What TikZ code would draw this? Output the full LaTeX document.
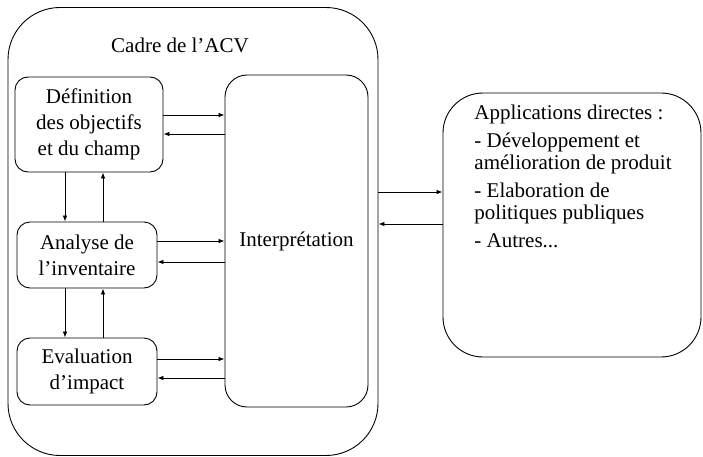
\documentclass[tikz,border=0pt]{standalone}
\usepackage{fontspec}
\setmainfont{Liberation Serif}
\usetikzlibrary{arrows.meta}
\begin{document}
\begin{tikzpicture}[x=1pt,y=-1pt,
  line width=0.9pt,
  every node/.style={font=\rmfamily\fontsize{21}{26}\selectfont},
  box/.style={draw, rounded corners=13pt, inner sep=0pt, align=center},
  arr/.style={-{Latex[length=6pt,width=4.5pt]}, line width=0.8pt}]
\useasboundingbox (0,0) rectangle (703,457);
% outer frame
\node[box, rounded corners=52pt, minimum width=370pt, minimum height=448pt] (cadre) at (193,231.5) {};
\node (titre) at (180,45) {Cadre de l’ACV};
% inner boxes
\node[box, minimum width=148pt, minimum height=95pt] (def) at (89,124.5) {Définition\\des objectifs\\et du champ};
\node[box, minimum width=140pt, minimum height=66pt] (ana) at (87,255) {Analyse de\\l’inventaire};
\node[box, minimum width=140pt, minimum height=67pt] (eva) at (87,371.5) {Evaluation\\d’impact};
\node[box, rounded corners=22pt, minimum width=143pt, minimum height=332pt] (int) at (296.5,241) {Interprétation};
% applications box
\node[box, rounded corners=40pt, minimum width=258pt, minimum height=264pt] (app) at (572,225) {};
\node[anchor=north west, align=left, inner sep=0pt, font=\rmfamily\fontsize{21}{22}\selectfont] (apptxt) at (474,104)
  {Applications directes :\\[6pt]- Développement et\\amélioration de produit\\[6pt]- Elaboration de\\politiques publiques\\[6pt]- Autres...};
% horizontal arrows
\draw[arr] (def.east |- 0,115) -- (int.west |- 0,115);
\draw[arr] (int.west |- 0,134) -- (def.east |- 0,134);
\draw[arr] (ana.east |- 0,241) -- (int.west |- 0,241);
\draw[arr] (int.west |- 0,262) -- (ana.east |- 0,262);
\draw[arr] (eva.east |- 0,359) -- (int.west |- 0,359);
\draw[arr] (int.west |- 0,378) -- (eva.east |- 0,378);
% vertical arrows
\draw[arr] (def.south -| 65,0) -- (ana.north -| 65,0);
\draw[arr] (ana.north -| 103,0) -- (def.south -| 103,0);
\draw[arr] (ana.south -| 65,0) -- (eva.north -| 65,0);
\draw[arr] (eva.north -| 103,0) -- (ana.south -| 103,0);
% outer arrows
\draw[arr] (cadre.east |- 0,192) -- (app.west |- 0,192);
\draw[arr] (app.west |- 0,224) -- (cadre.east |- 0,224);
\end{tikzpicture}
\end{document}
